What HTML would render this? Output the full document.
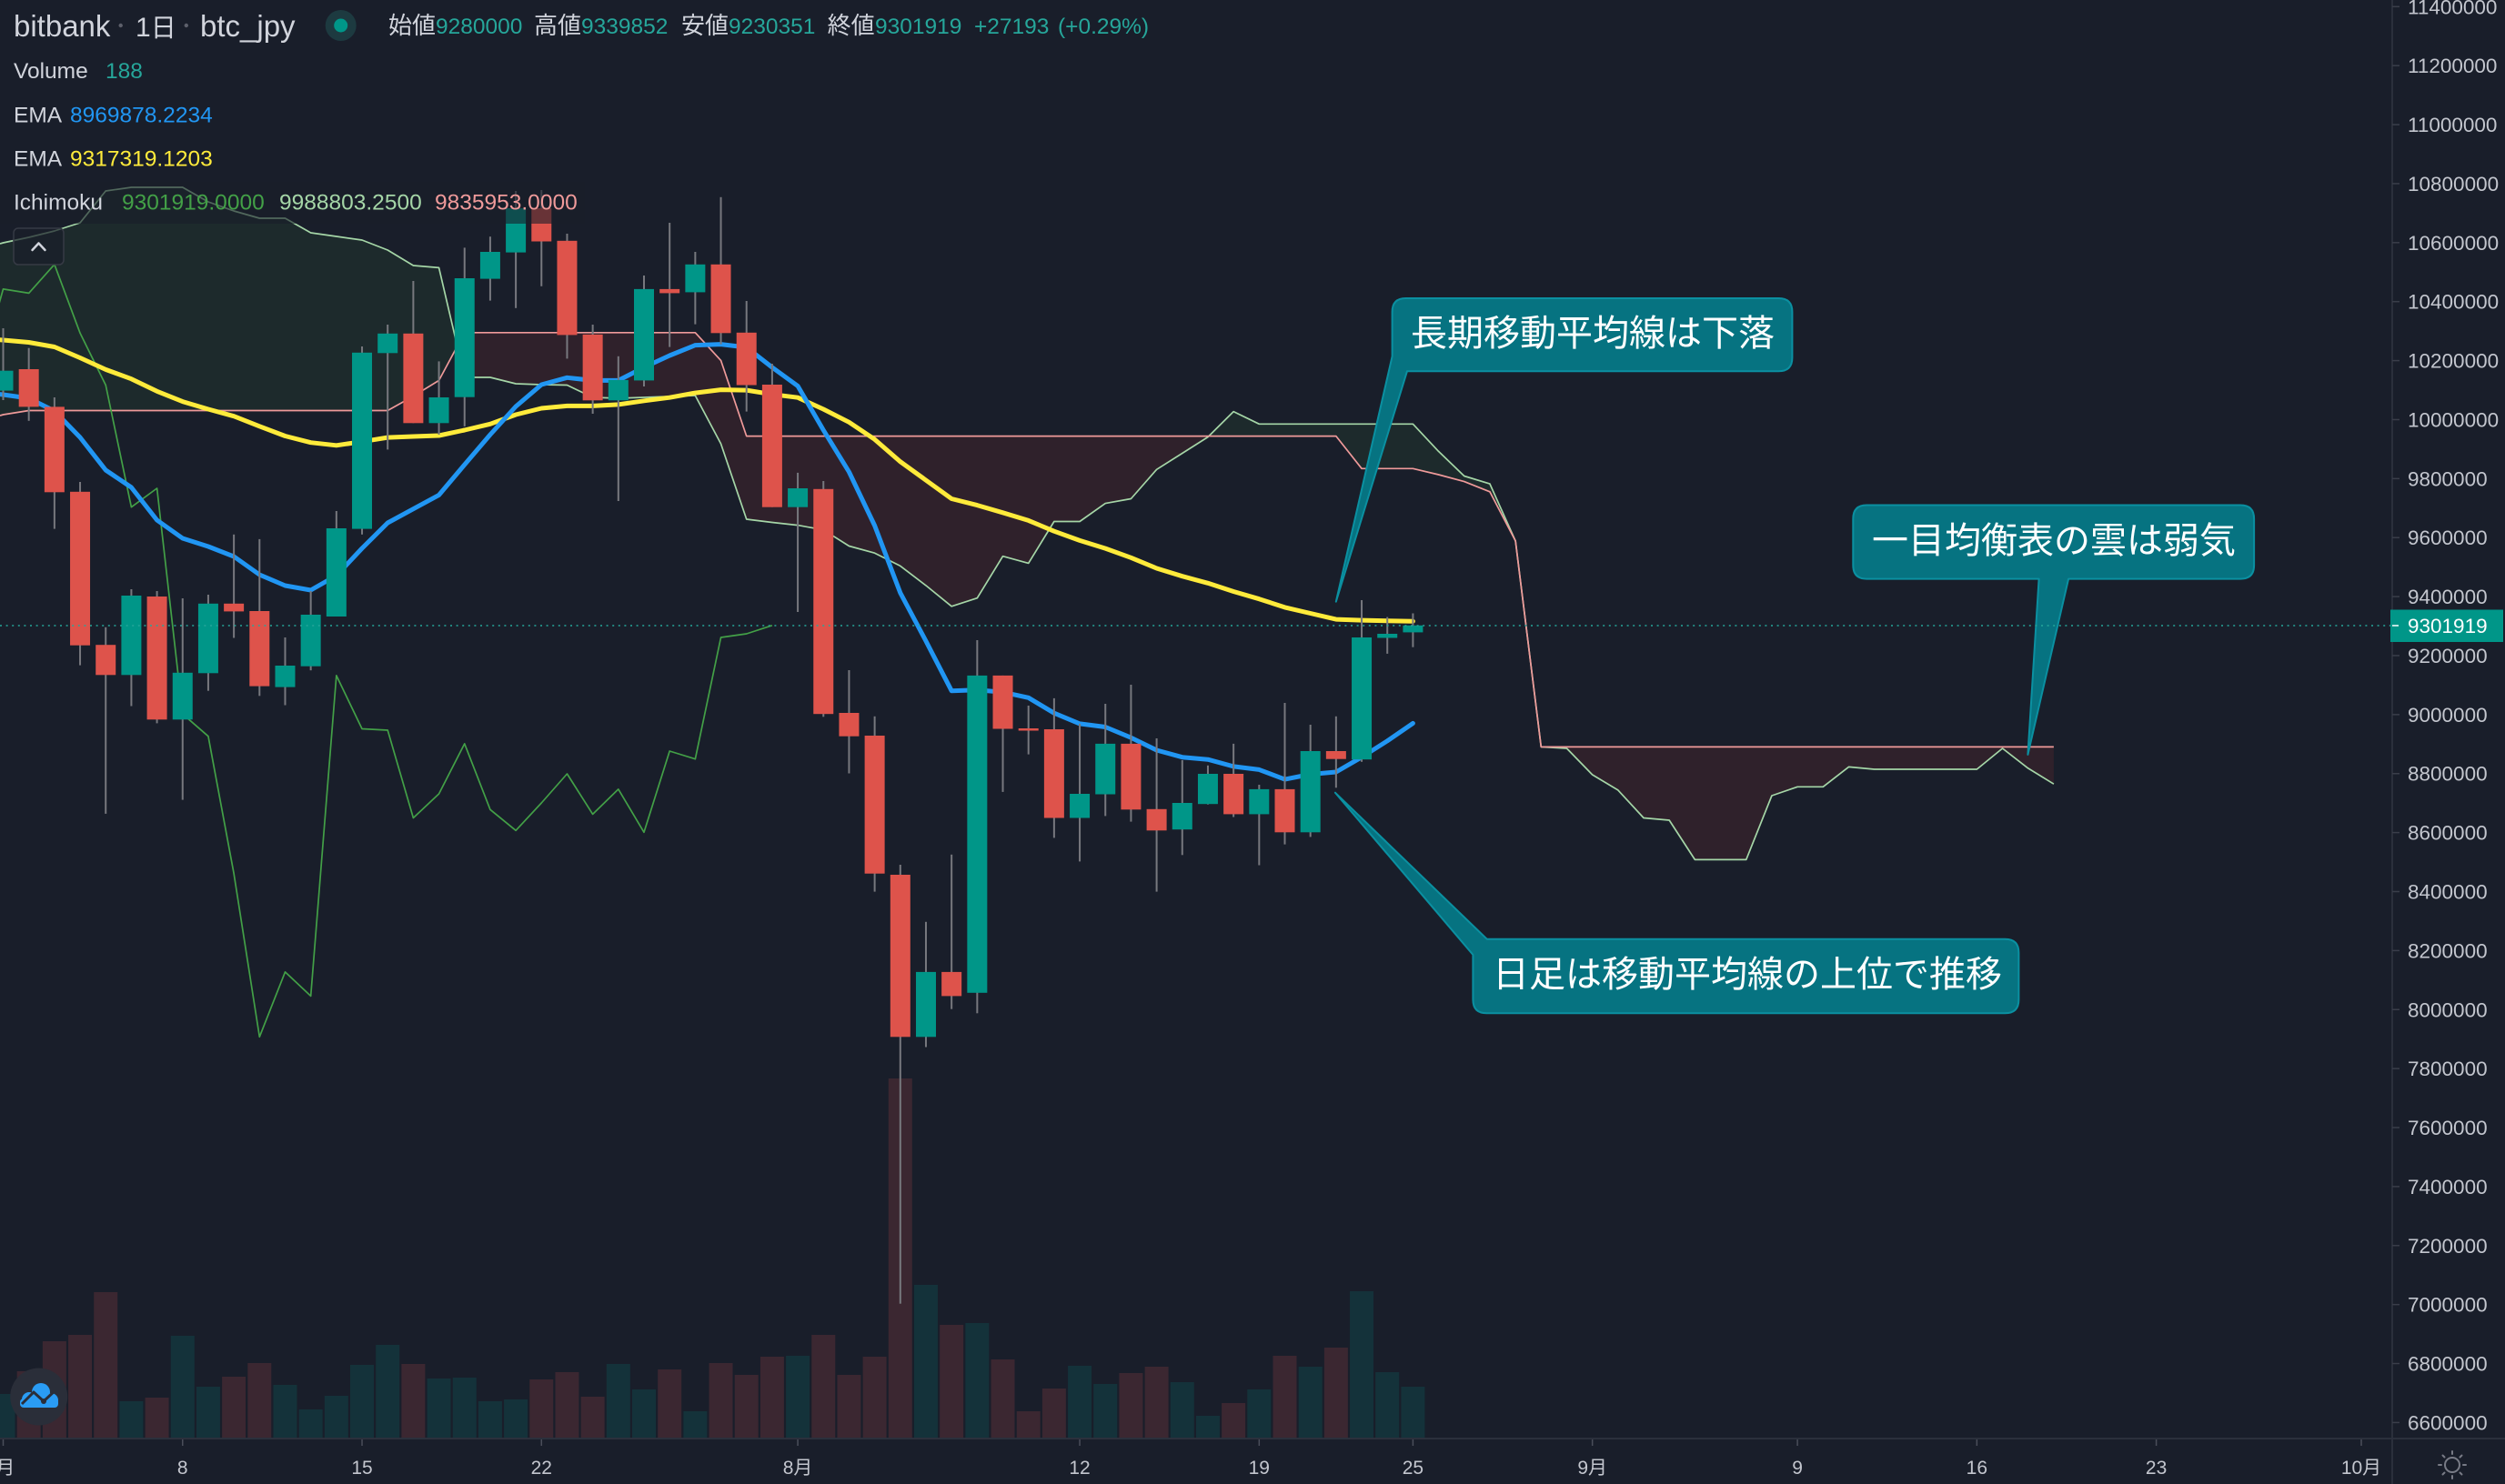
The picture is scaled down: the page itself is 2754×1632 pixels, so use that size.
<!DOCTYPE html>
<html><head><meta charset="utf-8"><style>
html,body{margin:0;padding:0;background:#191e2a;overflow:hidden;}
svg{display:block;}
text{font-family:"Liberation Sans","Noto Sans CJK JP",sans-serif;}
.cjk{font-family:"Noto Sans CJK JP","Liberation Sans",sans-serif;}
.vr{fill:#3b2731}.vt{fill:#14323a}
.u{fill:#009688}.d{fill:#de534b}.w{fill:#77787e}
.yl{font-size:22.5px;fill:#c3c6ce}
.tl{font-size:21px;fill:#c3c6ce}
</style></head><body>
<svg width="2754" height="1632" viewBox="0 0 2754 1632" xmlns="http://www.w3.org/2000/svg">
<rect width="2754" height="1632" fill="#191e2a"/>

<!-- volume -->
<g>
<rect class="vt" x="-9.5" y="1533" width="26" height="48"/>
<rect class="vr" x="18.68" y="1508" width="26" height="73"/>
<rect class="vr" x="46.86" y="1475" width="26" height="106"/>
<rect class="vr" x="75.04" y="1468" width="26" height="113"/>
<rect class="vr" x="103.22" y="1421" width="26" height="160"/>
<rect class="vt" x="131.4" y="1541" width="26" height="40"/>
<rect class="vr" x="159.58" y="1537" width="26" height="44"/>
<rect class="vt" x="187.76" y="1469" width="26" height="112"/>
<rect class="vt" x="215.94" y="1525" width="26" height="56"/>
<rect class="vr" x="244.12" y="1514" width="26" height="67"/>
<rect class="vr" x="272.3" y="1499" width="26" height="82"/>
<rect class="vt" x="300.48" y="1523" width="26" height="58"/>
<rect class="vt" x="328.66" y="1550" width="26" height="31"/>
<rect class="vt" x="356.84" y="1535" width="26" height="46"/>
<rect class="vt" x="385.02" y="1501" width="26" height="80"/>
<rect class="vt" x="413.2" y="1479" width="26" height="102"/>
<rect class="vr" x="441.38" y="1500" width="26" height="81"/>
<rect class="vt" x="469.56" y="1516" width="26" height="65"/>
<rect class="vt" x="497.74" y="1515" width="26" height="66"/>
<rect class="vt" x="525.92" y="1541" width="26" height="40"/>
<rect class="vt" x="554.1" y="1539" width="26" height="42"/>
<rect class="vr" x="582.28" y="1517" width="26" height="64"/>
<rect class="vr" x="610.46" y="1509" width="26" height="72"/>
<rect class="vr" x="638.64" y="1536" width="26" height="45"/>
<rect class="vt" x="666.82" y="1500" width="26" height="81"/>
<rect class="vt" x="695" y="1528" width="26" height="53"/>
<rect class="vr" x="723.18" y="1506" width="26" height="75"/>
<rect class="vt" x="751.36" y="1552" width="26" height="29"/>
<rect class="vr" x="779.54" y="1499" width="26" height="82"/>
<rect class="vr" x="807.72" y="1512" width="26" height="69"/>
<rect class="vr" x="835.9" y="1492" width="26" height="89"/>
<rect class="vt" x="864.08" y="1491" width="26" height="90"/>
<rect class="vr" x="892.26" y="1468" width="26" height="113"/>
<rect class="vr" x="920.44" y="1512" width="26" height="69"/>
<rect class="vr" x="948.62" y="1492" width="26" height="89"/>
<rect class="vr" x="976.8" y="1186" width="26" height="395"/>
<rect class="vt" x="1004.98" y="1413" width="26" height="168"/>
<rect class="vr" x="1033.16" y="1457" width="26" height="124"/>
<rect class="vt" x="1061.34" y="1455" width="26" height="126"/>
<rect class="vr" x="1089.52" y="1495" width="26" height="86"/>
<rect class="vr" x="1117.7" y="1552" width="26" height="29"/>
<rect class="vr" x="1145.88" y="1527" width="26" height="54"/>
<rect class="vt" x="1174.06" y="1502" width="26" height="79"/>
<rect class="vt" x="1202.24" y="1522" width="26" height="59"/>
<rect class="vr" x="1230.42" y="1510" width="26" height="71"/>
<rect class="vr" x="1258.6" y="1503" width="26" height="78"/>
<rect class="vt" x="1286.78" y="1520" width="26" height="61"/>
<rect class="vt" x="1314.96" y="1557" width="26" height="24"/>
<rect class="vr" x="1343.14" y="1543" width="26" height="38"/>
<rect class="vt" x="1371.32" y="1528" width="26" height="53"/>
<rect class="vr" x="1399.5" y="1491" width="26" height="90"/>
<rect class="vt" x="1427.68" y="1503" width="26" height="78"/>
<rect class="vr" x="1455.86" y="1482" width="26" height="99"/>
<rect class="vt" x="1484.04" y="1420" width="26" height="161"/>
<rect class="vt" x="1512.22" y="1509" width="26" height="72"/>
<rect class="vt" x="1540.4" y="1525" width="26" height="56"/>
</g>

<!-- cloud fills -->
<g stroke="none">
<polygon fill="rgba(67,160,71,0.1)" points="0,268 3.5,267 31.68,261 59.86,254 88.04,245 116.22,210 144.4,206 172.58,206 200.76,206 228.94,222 257.12,232 285.3,240 313.48,240 341.66,256 369.84,260 398.02,264 426.2,275 454.38,292 482.56,294.4 502.8,380.9 482.56,418.4 454.38,435.7 426.2,451.5 31.68,451.5 3.5,456 0,457"/>
<polygon fill="rgba(244,67,54,0.1)" points="502.8,380.9 510.74,415 538.92,415 567.1,422 595.28,423 623.46,423.5 651.64,437 679.82,438 708,437 736.18,436 764.36,435 792.54,488 820.72,571 848.9,574.5 877.08,577.6 905.26,582.7 933.44,600.5 961.62,608.2 989.8,622.4 1017.98,643.9 1046.16,666.8 1074.34,657.7 1102.52,611.7 1130.7,619.4 1158.88,573.5 1187.06,573.5 1215.24,553.6 1243.42,548.5 1271.6,516.3 1299.78,498.5 1327.96,480.6 1329,479.6 820.72,479.6 792.54,396.4 764.36,365.8 510.74,365.8"/>
<polygon fill="rgba(67,160,71,0.1)" points="1329,479.6 1356.14,452.6 1384.32,466.3 1553.4,466.3 1581.58,496.4 1609.76,523.5 1637.94,532.1 1666.12,594.9 1637.94,540.8 1609.76,529.6 1581.58,522 1553.4,515.3 1497.04,515.3 1468.86,479.6"/>
<polygon fill="rgba(244,67,54,0.1)" points="1666.12,594.9 1694.3,821.4 1722.48,823 1750.66,852 1778.84,868.9 1807.02,899.5 1835.2,902 1863.38,945.4 1919.74,945.4 1947.92,875 1976.1,865.3 2004.28,865.3 2032.46,843.4 2060.64,846 2173.36,846 2201.54,823 2229.72,844.9 2257.9,862.2 2257.9,821.4 1694.3,821.4"/>
</g>

<!-- ichimoku lines -->
<g fill="none" stroke-width="1.7" stroke-linejoin="round">
<polyline stroke="#a5d6a7" points="0,268 3.5,267 31.68,261 59.86,254 88.04,245 116.22,210 144.4,206 172.58,206 200.76,206 228.94,222 257.12,232 285.3,240 313.48,240 341.66,256 369.84,260 398.02,264 426.2,275 454.38,292 482.56,294.4 510.74,415 538.92,415 567.1,422 595.28,423 623.46,423.5 651.64,437 679.82,438 708,437 736.18,436 764.36,435 792.54,488 820.72,571 848.9,574.5 877.08,577.6 905.26,582.7 933.44,600.5 961.62,608.2 989.8,622.4 1017.98,643.9 1046.16,666.8 1074.34,657.7 1102.52,611.7 1130.7,619.4 1158.88,573.5 1187.06,573.5 1215.24,553.6 1243.42,548.5 1271.6,516.3 1299.78,498.5 1327.96,480.6 1356.14,452.6 1384.32,466.3 1553.4,466.3 1581.58,496.4 1609.76,523.5 1637.94,532.1 1666.12,594.9 1694.3,821.4 1722.48,823 1750.66,852 1778.84,868.9 1807.02,899.5 1835.2,902 1863.38,945.4 1919.74,945.4 1947.92,875 1976.1,865.3 2004.28,865.3 2032.46,843.4 2060.64,846 2173.36,846 2201.54,823 2229.72,844.9 2257.9,862.2"/>
<polyline stroke="#ef9a9a" points="0,457 3.5,456 31.68,451.5 426.2,451.5 454.38,435.7 482.56,418.4 510.74,365.8 764.36,365.8 792.54,396.4 820.72,479.6 1468.86,479.6 1497.04,515.3 1553.4,515.3 1581.58,522 1609.76,529.6 1637.94,540.8 1666.12,594.9 1694.3,821.4 2257.9,821.4"/>
<polyline stroke="#43a047" points="-24.68,417.9 3.5,317.9 31.68,322.4 59.86,290.8 88.04,366.3 116.22,423.5 144.4,557.7 172.58,537 200.76,785.2 228.94,809.7 257.12,960.7 285.3,1140.3 313.48,1068.9 341.66,1095.4 369.84,742.9 398.02,801.5 426.2,803 454.38,899.5 482.56,873 510.74,817.9 538.92,890.3 567.1,913.3 595.28,883 623.46,851 651.64,895.4 679.82,867.9 708,915.3 736.18,826 764.36,834.7 792.54,701 820.72,697 848.9,687.8"/>
</g>

<!-- EMAs -->
<g fill="none" stroke-width="5" stroke-linejoin="round" stroke-linecap="round">
<polyline stroke="#ffeb3b" points="-24.68,372 3.5,374 31.68,376.5 59.86,381.5 88.04,393.5 116.22,406.4 144.4,416.7 172.58,430.3 200.76,441.6 228.94,450 257.12,457.7 285.3,468.8 313.48,479.5 341.66,486.7 369.84,489.8 398.02,485.7 426.2,481.1 454.38,480 482.56,479 510.74,473 538.92,466.3 567.1,456 595.28,449 623.46,446.4 651.64,446.4 679.82,444.9 708,440.8 736.18,437.2 764.36,432.1 792.54,428.6 820.72,429.1 848.9,433.7 877.08,437.2 905.26,450 933.44,464.3 961.62,483.2 989.8,507.7 1017.98,528.1 1046.16,548.5 1074.34,555.6 1102.52,563.8 1130.7,572.4 1158.88,584.2 1187.06,594.4 1215.24,603.1 1243.42,613.3 1271.6,625 1299.78,633.7 1327.96,641.3 1356.14,650.5 1384.32,658.7 1412.5,667.9 1440.68,674.5 1468.86,681.1 1497.04,682.1 1525.22,682.7 1553.4,683.2"/>
<polyline stroke="#2196f3" points="-24.68,431 3.5,434 31.68,438 59.86,452 88.04,481 116.22,517 144.4,536 172.58,572 200.76,592 228.94,601 257.12,612 285.3,632 313.48,644 341.66,649 369.84,633 398.02,603 426.2,575 454.38,559.7 482.56,544.4 510.74,511 538.92,478 567.1,447 595.28,423 623.46,415.3 651.64,418.4 679.82,418.4 708,404 736.18,391 764.36,379.6 792.54,378.6 820.72,382 848.9,404 877.08,424.5 905.26,473 933.44,519 961.62,578 989.8,652 1017.98,705 1046.16,759.7 1074.34,758.7 1102.52,761.2 1130.7,767.3 1158.88,784.2 1187.06,795.9 1215.24,799.5 1243.42,811.2 1271.6,825 1299.78,832.7 1327.96,835.2 1356.14,842.9 1384.32,846.4 1412.5,857.1 1440.68,851.5 1468.86,849 1497.04,832.7 1525.22,814.8 1553.4,795.4"/>
</g>

<!-- wicks -->
<g class="w">
<rect class="w" x="2.5" y="361" width="2" height="79"/>
<rect class="w" x="30.68" y="382.7" width="2" height="80.1"/>
<rect class="w" x="58.86" y="437" width="2" height="144.6"/>
<rect class="w" x="87.04" y="530" width="2" height="201.6"/>
<rect class="w" x="115.22" y="689.8" width="2" height="205.1"/>
<rect class="w" x="143.4" y="648" width="2" height="128.5"/>
<rect class="w" x="171.58" y="650" width="2" height="145.4"/>
<rect class="w" x="199.76" y="658" width="2" height="221.6"/>
<rect class="w" x="227.94" y="654" width="2" height="105.7"/>
<rect class="w" x="256.12" y="587.8" width="2" height="113.7"/>
<rect class="w" x="284.3" y="592.9" width="2" height="172.4"/>
<rect class="w" x="312.48" y="701" width="2" height="74.5"/>
<rect class="w" x="340.66" y="650" width="2" height="87.2"/>
<rect class="w" x="368.84" y="562" width="2" height="116"/>
<rect class="w" x="397.02" y="381" width="2" height="206.8"/>
<rect class="w" x="425.2" y="357" width="2" height="137.4"/>
<rect class="w" x="453.38" y="309" width="2" height="156.3"/>
<rect class="w" x="481.56" y="397.4" width="2" height="80.6"/>
<rect class="w" x="509.74" y="272.4" width="2" height="196.5"/>
<rect class="w" x="537.92" y="260.2" width="2" height="70.4"/>
<rect class="w" x="566.1" y="210" width="2" height="128.8"/>
<rect class="w" x="594.28" y="209" width="2" height="105.8"/>
<rect class="w" x="622.46" y="257" width="2" height="137.4"/>
<rect class="w" x="650.64" y="357" width="2" height="98"/>
<rect class="w" x="678.82" y="391.8" width="2" height="159.2"/>
<rect class="w" x="707" y="303" width="2" height="122"/>
<rect class="w" x="735.18" y="245" width="2" height="136.6"/>
<rect class="w" x="763.36" y="277" width="2" height="79.6"/>
<rect class="w" x="791.54" y="216.8" width="2" height="161.8"/>
<rect class="w" x="819.72" y="331" width="2" height="121.6"/>
<rect class="w" x="847.9" y="400" width="2" height="157.7"/>
<rect class="w" x="876.08" y="519.9" width="2" height="153.1"/>
<rect class="w" x="904.26" y="529" width="2" height="259.3"/>
<rect class="w" x="932.44" y="737" width="2" height="113.5"/>
<rect class="w" x="960.62" y="787.8" width="2" height="192.8"/>
<rect class="w" x="988.8" y="951" width="2" height="482.7"/>
<rect class="w" x="1016.98" y="1013.8" width="2" height="137.7"/>
<rect class="w" x="1045.16" y="939.8" width="2" height="169.9"/>
<rect class="w" x="1073.34" y="704" width="2" height="410.3"/>
<rect class="w" x="1101.52" y="742.9" width="2" height="128"/>
<rect class="w" x="1129.7" y="776" width="2" height="53.6"/>
<rect class="w" x="1157.88" y="767.9" width="2" height="153.5"/>
<rect class="w" x="1186.06" y="796" width="2" height="151.4"/>
<rect class="w" x="1214.24" y="774" width="2" height="123.4"/>
<rect class="w" x="1242.42" y="753" width="2" height="150.6"/>
<rect class="w" x="1270.6" y="812" width="2" height="168.6"/>
<rect class="w" x="1298.78" y="836" width="2" height="104.3"/>
<rect class="w" x="1326.96" y="841.8" width="2" height="42.9"/>
<rect class="w" x="1355.14" y="817.9" width="2" height="80.6"/>
<rect class="w" x="1383.32" y="863" width="2" height="88.5"/>
<rect class="w" x="1411.5" y="773" width="2" height="155.6"/>
<rect class="w" x="1439.68" y="797" width="2" height="123.4"/>
<rect class="w" x="1467.86" y="787.8" width="2" height="78.5"/>
<rect class="w" x="1496.04" y="660" width="2" height="177.8"/>
<rect class="w" x="1524.22" y="678.6" width="2" height="40.3"/>
<rect class="w" x="1552.4" y="674.5" width="2" height="37.2"/>
</g>

<!-- bodies -->
<g>
<rect class="u" x="-7.5" y="407.7" width="22" height="21.9"/>
<rect class="d" x="20.68" y="406" width="22" height="41.4"/>
<rect class="d" x="48.86" y="447.4" width="22" height="93.9"/>
<rect class="d" x="77.04" y="540.8" width="22" height="168.9"/>
<rect class="d" x="105.22" y="709.2" width="22" height="33.1"/>
<rect class="u" x="133.4" y="655" width="22" height="87.3"/>
<rect class="d" x="161.58" y="656" width="22" height="135.3"/>
<rect class="u" x="189.76" y="739.8" width="22" height="51.5"/>
<rect class="u" x="217.94" y="663.8" width="22" height="76.5"/>
<rect class="d" x="246.12" y="663.8" width="22" height="8.6"/>
<rect class="d" x="274.3" y="672" width="22" height="82.6"/>
<rect class="u" x="302.48" y="732" width="22" height="23.6"/>
<rect class="u" x="330.66" y="676" width="22" height="56.7"/>
<rect class="u" x="358.84" y="581" width="22" height="97"/>
<rect class="u" x="387.02" y="387.8" width="22" height="193.8"/>
<rect class="u" x="415.2" y="366.8" width="22" height="21.5"/>
<rect class="d" x="443.38" y="366.8" width="22" height="98.5"/>
<rect class="u" x="471.56" y="437" width="22" height="28.3"/>
<rect class="u" x="499.74" y="306" width="22" height="130.7"/>
<rect class="u" x="527.92" y="277" width="22" height="29.6"/>
<rect class="u" x="556.1" y="229" width="22" height="48.6"/>
<rect class="d" x="584.28" y="229" width="22" height="36.5"/>
<rect class="d" x="612.46" y="264.8" width="22" height="103.6"/>
<rect class="d" x="640.64" y="367.9" width="22" height="72.4"/>
<rect class="u" x="668.82" y="417.9" width="22" height="22.4"/>
<rect class="u" x="697" y="317.9" width="22" height="100.5"/>
<rect class="d" x="725.18" y="317.9" width="22" height="4.5"/>
<rect class="u" x="753.36" y="290.8" width="22" height="30.6"/>
<rect class="d" x="781.54" y="290.8" width="22" height="75.5"/>
<rect class="d" x="809.72" y="365.8" width="22" height="57.7"/>
<rect class="d" x="837.9" y="423" width="22" height="134.7"/>
<rect class="u" x="866.08" y="537" width="22" height="20.7"/>
<rect class="d" x="894.26" y="537.8" width="22" height="247.4"/>
<rect class="d" x="922.44" y="784" width="22" height="25.7"/>
<rect class="d" x="950.62" y="809" width="22" height="151.7"/>
<rect class="d" x="978.8" y="962" width="22" height="178.3"/>
<rect class="u" x="1006.98" y="1068.9" width="22" height="71.4"/>
<rect class="d" x="1035.16" y="1068.9" width="22" height="26.5"/>
<rect class="u" x="1063.34" y="742.9" width="22" height="348.9"/>
<rect class="d" x="1091.52" y="742.9" width="22" height="58.6"/>
<rect class="d" x="1119.7" y="801" width="22" height="2.5"/>
<rect class="d" x="1147.88" y="802" width="22" height="97.5"/>
<rect class="u" x="1176.06" y="873" width="22" height="26.5"/>
<rect class="u" x="1204.24" y="817.9" width="22" height="55.6"/>
<rect class="d" x="1232.42" y="817.9" width="22" height="72.4"/>
<rect class="d" x="1260.6" y="889.8" width="22" height="23.5"/>
<rect class="u" x="1288.78" y="883" width="22" height="29.2"/>
<rect class="u" x="1316.96" y="851" width="22" height="33.2"/>
<rect class="d" x="1345.14" y="851" width="22" height="44.4"/>
<rect class="u" x="1373.32" y="867.9" width="22" height="27.5"/>
<rect class="d" x="1401.5" y="867.9" width="22" height="47.4"/>
<rect class="u" x="1429.68" y="826" width="22" height="89.3"/>
<rect class="d" x="1457.86" y="826" width="22" height="8.7"/>
<rect class="u" x="1486.04" y="701" width="22" height="134.2"/>
<rect class="u" x="1514.22" y="697" width="22" height="4.5"/>
<rect class="u" x="1542.4" y="687.8" width="22" height="7.6"/>
</g>

<!-- annotations -->
<g fill="#067381" stroke="#0b90a1" stroke-width="2" stroke-linejoin="round">
<path d="M1545.6,328 H1955.4 Q1970.4,328 1970.4,343 V393.2 Q1970.4,408.2 1955.4,408.2 H1547 L1468.8,661.7 L1530.6,391.8 V343 Q1530.6,328 1545.6,328 Z"/>
<path d="M2052.3,555.5 H2463.1 Q2478.1,555.5 2478.1,570.5 V621.6 Q2478.1,636.6 2463.1,636.6 H2274.1 L2229.4,829.9 L2241.6,636.6 H2052.3 Q2037.3,636.6 2037.3,621.6 V570.5 Q2037.3,555.5 2052.3,555.5 Z"/>
<path d="M1634.7,1032.7 H2204.4 Q2219.4,1032.7 2219.4,1047.7 V1099.3 Q2219.4,1114.3 2204.4,1114.3 H1634.4 Q1619.4,1114.3 1619.4,1099.3 V1050 L1467.9,871.7 Z"/>
</g>
<g class="cjk" fill="#ffffff" font-size="40" text-anchor="middle">
<text class="cjk" x="1751" y="380">長期移動平均線は下落</text>
<text class="cjk" x="2258" y="608">一目均衡表の雲は弱気</text>
<text class="cjk" x="1921" y="1085">日足は移動平均線の上位で推移</text>
</g>

<!-- price line -->
<line x1="0" y1="688" x2="2628" y2="688" stroke="#26a69a" stroke-width="1.6" stroke-dasharray="2 4.6"/>

<!-- legend panel row 5 -->
<rect x="0" y="200" width="643" height="46" fill="#191e2a" opacity="0.6"/>

<!-- legend -->
<text x="15" y="40" font-size="33" fill="#d1d4dc">bitbank</text>
<circle cx="132.7" cy="28" r="2.2" fill="#5d606b"/>
<text x="149" y="40" font-size="30" fill="#d1d4dc">1<tspan class="cjk" font-size="28">日</tspan></text>
<circle cx="204.8" cy="28" r="2.2" fill="#5d606b"/>
<text x="220" y="40" font-size="33" fill="#d1d4dc">btc_jpy</text>
<circle cx="374.7" cy="28" r="17" fill="#1d3a40"/>
<circle cx="374.7" cy="28" r="7.5" fill="#009688"/>

<g font-size="24.5">
<text x="427" y="37" class="cjk" font-size="26" fill="#d1d4dc">始値</text>
<text x="479" y="37" fill="#26a69a">9280000</text>
<text x="587" y="37" class="cjk" font-size="26" fill="#d1d4dc">高値</text>
<text x="639" y="37" fill="#26a69a">9339852</text>
<text x="749" y="37" class="cjk" font-size="26" fill="#d1d4dc">安値</text>
<text x="801" y="37" fill="#26a69a">9230351</text>
<text x="909.6" y="37" class="cjk" font-size="26" fill="#d1d4dc">終値</text>
<text x="962" y="37" fill="#26a69a">9301919</text>
<text x="1071" y="37" fill="#26a69a">+27193</text>
<text x="1163" y="37" fill="#26a69a">(+0.29%)</text>

<text x="15" y="86" fill="#d1d4dc">Volume</text>
<text x="116" y="86" fill="#26a69a">188</text>
<text x="15" y="134.7" fill="#d1d4dc">EMA</text>
<text x="77" y="134.7" fill="#2196f3">8969878.2234</text>
<text x="15" y="182.7" fill="#d1d4dc">EMA</text>
<text x="77" y="182.7" fill="#ffeb3b">9317319.1203</text>
<text x="15" y="230.4" fill="#d1d4dc">Ichimoku</text>
<text x="134" y="230.4" fill="#43a047">9301919.0000</text>
<text x="307" y="230.4" fill="#a5d6a7">9988803.2500</text>
<text x="478" y="230.4" fill="#ef9a9a">9835953.0000</text>
</g>

<!-- collapse button -->
<rect x="15" y="251" width="55" height="40" rx="5" fill="#191e2a" fill-opacity="0.7" stroke="#363a45" stroke-width="1.5"/>
<polyline points="35.5,275 42.5,267.5 49.5,275" fill="none" stroke="#d1d4dc" stroke-width="2.5" stroke-linecap="round" stroke-linejoin="round"/>

<!-- logo -->
<circle cx="42.7" cy="1536" r="31.5" fill="#2a2e39"/>
<g fill="#2a9cf4">
<circle cx="32" cy="1539" r="8"/>
<circle cx="45" cy="1531" r="10"/>
<circle cx="56" cy="1540" r="8"/>
<rect x="22" y="1538" width="42" height="10" rx="4"/>
</g>
<polyline points="24,1544 37,1531 48,1541 62,1528" fill="none" stroke="#2a2e39" stroke-width="3" stroke-linejoin="round"/>
<circle cx="48" cy="1541" r="3" fill="#2a2e39"/>

<!-- axes -->
<rect x="2630" y="0" width="124" height="1632" fill="#191e2a"/>
<line x1="2630" y1="0" x2="2630" y2="1632" stroke="#2b303c" stroke-width="2"/>
<line x1="0" y1="1582" x2="2754" y2="1582" stroke="#2b303c" stroke-width="2"/>

<g stroke="#3a3e4a" stroke-width="1.5">
<line x1="2630" y1="7.3" x2="2638" y2="7.3"/><line x1="2630" y1="72.18" x2="2638" y2="72.18"/><line x1="2630" y1="137.06" x2="2638" y2="137.06"/><line x1="2630" y1="201.94" x2="2638" y2="201.94"/><line x1="2630" y1="266.82" x2="2638" y2="266.82"/><line x1="2630" y1="331.7" x2="2638" y2="331.7"/><line x1="2630" y1="396.58" x2="2638" y2="396.58"/><line x1="2630" y1="461.46" x2="2638" y2="461.46"/><line x1="2630" y1="526.34" x2="2638" y2="526.34"/><line x1="2630" y1="591.22" x2="2638" y2="591.22"/><line x1="2630" y1="656.1" x2="2638" y2="656.1"/><line x1="2630" y1="720.98" x2="2638" y2="720.98"/><line x1="2630" y1="785.86" x2="2638" y2="785.86"/><line x1="2630" y1="850.74" x2="2638" y2="850.74"/><line x1="2630" y1="915.62" x2="2638" y2="915.62"/><line x1="2630" y1="980.5" x2="2638" y2="980.5"/><line x1="2630" y1="1045.38" x2="2638" y2="1045.38"/><line x1="2630" y1="1110.26" x2="2638" y2="1110.26"/><line x1="2630" y1="1175.14" x2="2638" y2="1175.14"/><line x1="2630" y1="1240.02" x2="2638" y2="1240.02"/><line x1="2630" y1="1304.9" x2="2638" y2="1304.9"/><line x1="2630" y1="1369.78" x2="2638" y2="1369.78"/><line x1="2630" y1="1434.66" x2="2638" y2="1434.66"/><line x1="2630" y1="1499.54" x2="2638" y2="1499.54"/><line x1="2630" y1="1564.42" x2="2638" y2="1564.42"/>
</g>
<g class="yl">
<text class="yl" x="2647" y="15.3">11400000</text>
<text class="yl" x="2647" y="80.2">11200000</text>
<text class="yl" x="2647" y="145.1">11000000</text>
<text class="yl" x="2647" y="209.9">10800000</text>
<text class="yl" x="2647" y="274.8">10600000</text>
<text class="yl" x="2647" y="339.7">10400000</text>
<text class="yl" x="2647" y="404.6">10200000</text>
<text class="yl" x="2647" y="469.5">10000000</text>
<text class="yl" x="2647" y="534.3">9800000</text>
<text class="yl" x="2647" y="599.2">9600000</text>
<text class="yl" x="2647" y="664.1">9400000</text>
<text class="yl" x="2647" y="729">9200000</text>
<text class="yl" x="2647" y="793.9">9000000</text>
<text class="yl" x="2647" y="858.7">8800000</text>
<text class="yl" x="2647" y="923.6">8600000</text>
<text class="yl" x="2647" y="988.5">8400000</text>
<text class="yl" x="2647" y="1053.4">8200000</text>
<text class="yl" x="2647" y="1118.3">8000000</text>
<text class="yl" x="2647" y="1183.1">7800000</text>
<text class="yl" x="2647" y="1248">7600000</text>
<text class="yl" x="2647" y="1312.9">7400000</text>
<text class="yl" x="2647" y="1377.8">7200000</text>
<text class="yl" x="2647" y="1442.7">7000000</text>
<text class="yl" x="2647" y="1507.5">6800000</text>
<text class="yl" x="2647" y="1572.4">6600000</text>
</g>

<!-- last price label -->
<rect x="2628" y="670.5" width="124" height="35.5" fill="#009688"/>
<line x1="2630" y1="688" x2="2637" y2="688" stroke="#ffffff" stroke-width="1.5"/>
<text x="2647" y="696" font-size="22.5" fill="#ffffff">9301919</text>

<!-- time axis -->
<g stroke="#4a4e5a" stroke-width="1.5">
<line x1="3.5" y1="1583" x2="3.5" y2="1590"/><line x1="200.76" y1="1583" x2="200.76" y2="1590"/><line x1="398.02" y1="1583" x2="398.02" y2="1590"/><line x1="595.28" y1="1583" x2="595.28" y2="1590"/><line x1="877.08" y1="1583" x2="877.08" y2="1590"/><line x1="1187.06" y1="1583" x2="1187.06" y2="1590"/><line x1="1384.32" y1="1583" x2="1384.32" y2="1590"/><line x1="1553.4" y1="1583" x2="1553.4" y2="1590"/><line x1="1750.66" y1="1583" x2="1750.66" y2="1590"/><line x1="1976.1" y1="1583" x2="1976.1" y2="1590"/><line x1="2173.36" y1="1583" x2="2173.36" y2="1590"/><line x1="2370.6" y1="1583" x2="2370.6" y2="1590"/><line x1="2596" y1="1583" x2="2596" y2="1590"/>
</g>
<g class="tl" text-anchor="middle">
<text class="tl" x="0" y="1621">7<tspan class="cjk">月</tspan></text>
<text class="tl" x="200.76" y="1621">8</text>
<text class="tl" x="398.02" y="1621">15</text>
<text class="tl" x="595.28" y="1621">22</text>
<text class="tl" x="877.08" y="1621">8<tspan class="cjk">月</tspan></text>
<text class="tl" x="1187.06" y="1621">12</text>
<text class="tl" x="1384.32" y="1621">19</text>
<text class="tl" x="1553.4" y="1621">25</text>
<text class="tl" x="1750.66" y="1621">9<tspan class="cjk">月</tspan></text>
<text class="tl" x="1976.1" y="1621">9</text>
<text class="tl" x="2173.36" y="1621">16</text>
<text class="tl" x="2370.6" y="1621">23</text>
<text class="tl" x="2596" y="1621">10<tspan class="cjk">月</tspan></text>
</g>
<rect x="0" y="1590" width="0" height="0" fill="none"/>

<!-- settings icon -->
<g stroke="#787b86" stroke-width="2" fill="none" stroke-linecap="round">
<circle cx="2696" cy="1611" r="8"/>
<line x1="2696" y1="1599" x2="2696" y2="1596"/>
<line x1="2696" y1="1623" x2="2696" y2="1626"/>
<line x1="2684" y1="1611" x2="2681" y2="1611"/>
<line x1="2708" y1="1611" x2="2711" y2="1611"/>
<line x1="2687.5" y1="1602.5" x2="2685.5" y2="1600.5"/>
<line x1="2704.5" y1="1602.5" x2="2706.5" y2="1600.5"/>
<line x1="2687.5" y1="1619.5" x2="2685.5" y2="1621.5"/>
<line x1="2704.5" y1="1619.5" x2="2706.5" y2="1621.5"/>
</g>
</svg>
</body></html>
